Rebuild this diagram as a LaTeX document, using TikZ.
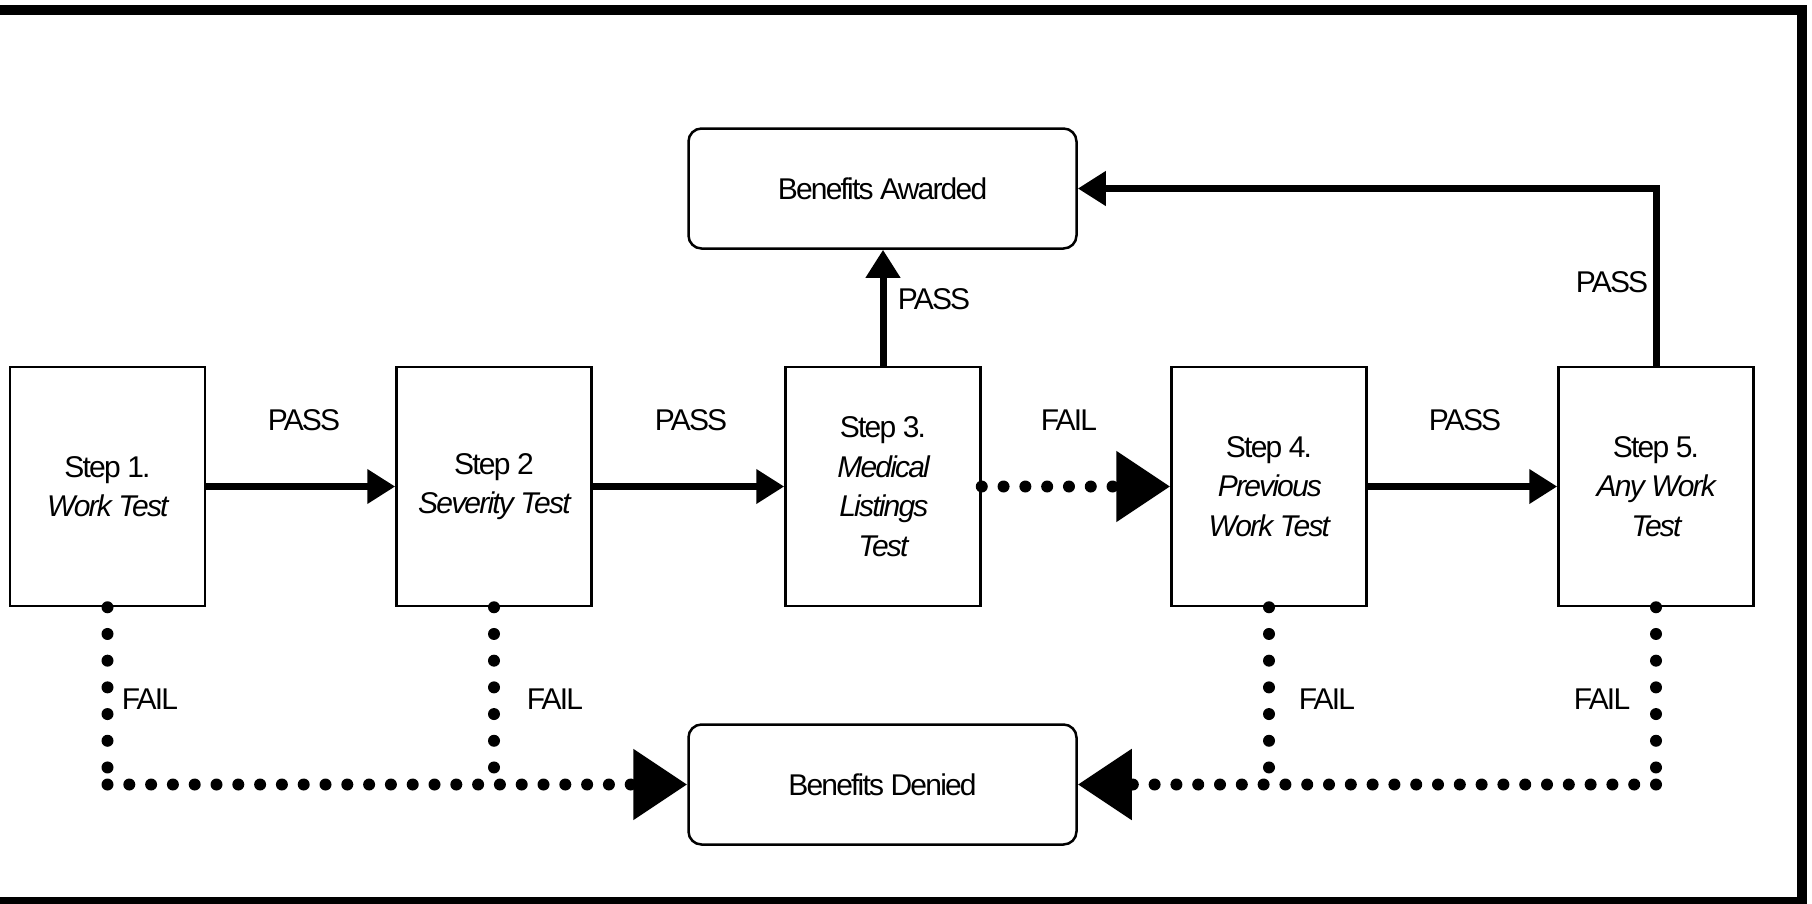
\documentclass[tikz,border=0pt]{standalone}
\usepackage{fontspec}
\setmainfont{Liberation Sans}[LetterSpace=-6]
\usetikzlibrary{arrows.meta}
\begin{document}
\begin{tikzpicture}[x=1pt,y=-1pt,
  stepbox/.style={draw,line width=2.5pt,minimum width=195pt,minimum height=239pt,inner sep=0pt,align=center,font=\fontsize{30}{39.5}\selectfont},
  outbox/.style={draw,line width=2.5pt,rounded corners=13pt,minimum width=388pt,minimum height=120pt,inner sep=0pt,font=\fontsize{30}{39.5}\selectfont},
  lbl/.style={inner sep=0pt,font=\fontsize{30}{36}\selectfont},
  passarrow/.style={line width=7pt,-{Triangle[length=28pt,width=33pt]}},
  failh/.style={line width=12pt,line cap=round,dash pattern=on 0pt off 21.8pt},
  failv/.style={line width=12pt,line cap=round,dash pattern=on 0pt off 26.7pt},
  failtip/.style={-{Triangle[length=54pt,width=68pt]}},
]
\useasboundingbox (0,0) rectangle (1812,903);
\draw[line width=10pt] (0,10) -- (1802,10) -- (1802,902) -- (0,902);

% step boxes
\node[stepbox] (s1) at (107.5,486.5) {Step 1.\\\textit{Work Test}};
\node[stepbox] (s2) at (494,486.5) {Step 2\\\textit{Severity Test}};
\node[stepbox] (s3) at (883,486.5) {Step 3.\\\textit{Medical}\\\textit{Listings}\\\textit{Test}};
\node[stepbox] (s4) at (1269,486.5) {Step 4.\\\textit{Previous}\\\textit{Work Test}};
\node[stepbox] (s5) at (1656,486.5) {Step 5.\\\textit{Any Work}\\\textit{Test}};

% outcome boxes
\node[outbox] (aw) at (882.5,188.5) {Benefits Awarded};
\node[outbox] (dn) at (882.5,784.5) {Benefits Denied};

% labels
\node[lbl] (p12) at (304,420) {PASS};
\node[lbl] (p23) at (691,420) {PASS};
\node[lbl] (f34) at (1069,420) {FAIL};
\node[lbl] (p45) at (1465,420) {PASS};
\node[lbl] (p3up) at (934,299) {PASS};
\node[lbl] (p5up) at (1612,282) {PASS};
\node[lbl] (f1) at (150,699) {FAIL};
\node[lbl] (f2) at (555,699) {FAIL};
\node[lbl] (f4) at (1327,699) {FAIL};
\node[lbl] (f5) at (1602,699) {FAIL};

% pass connectors
\draw[passarrow] (s1.east) -- (s2.west);
\draw[passarrow] (s2.east) -- (s3.west);
\draw[passarrow] (s4.east) -- (s5.west);
\draw[passarrow] (s3.north) -- (s3.north |- aw.south);
\draw[passarrow] (s5.north) |- (aw.east);

% fail connectors
\draw[failh,failtip] (s3.east) -- (s4.west);
\coordinate (j1) at (s1.south |- dn.west);
\coordinate (j2) at (s2.south |- dn.west);
\coordinate (j4) at (s4.south |- dn.east);
\coordinate (j5) at (s5.south |- dn.east);
\draw[failv] (s1.south) -- (j1);
\draw[failv] (s2.south) -- (j2);
\draw[failv] (s4.south) -- (j4);
\draw[failv] (s5.south) -- (j5);
\draw[failh,failtip] (j1) -- (dn.west);
\draw[failh,failtip] (j5) -- (dn.east);
\end{tikzpicture}
\end{document}
